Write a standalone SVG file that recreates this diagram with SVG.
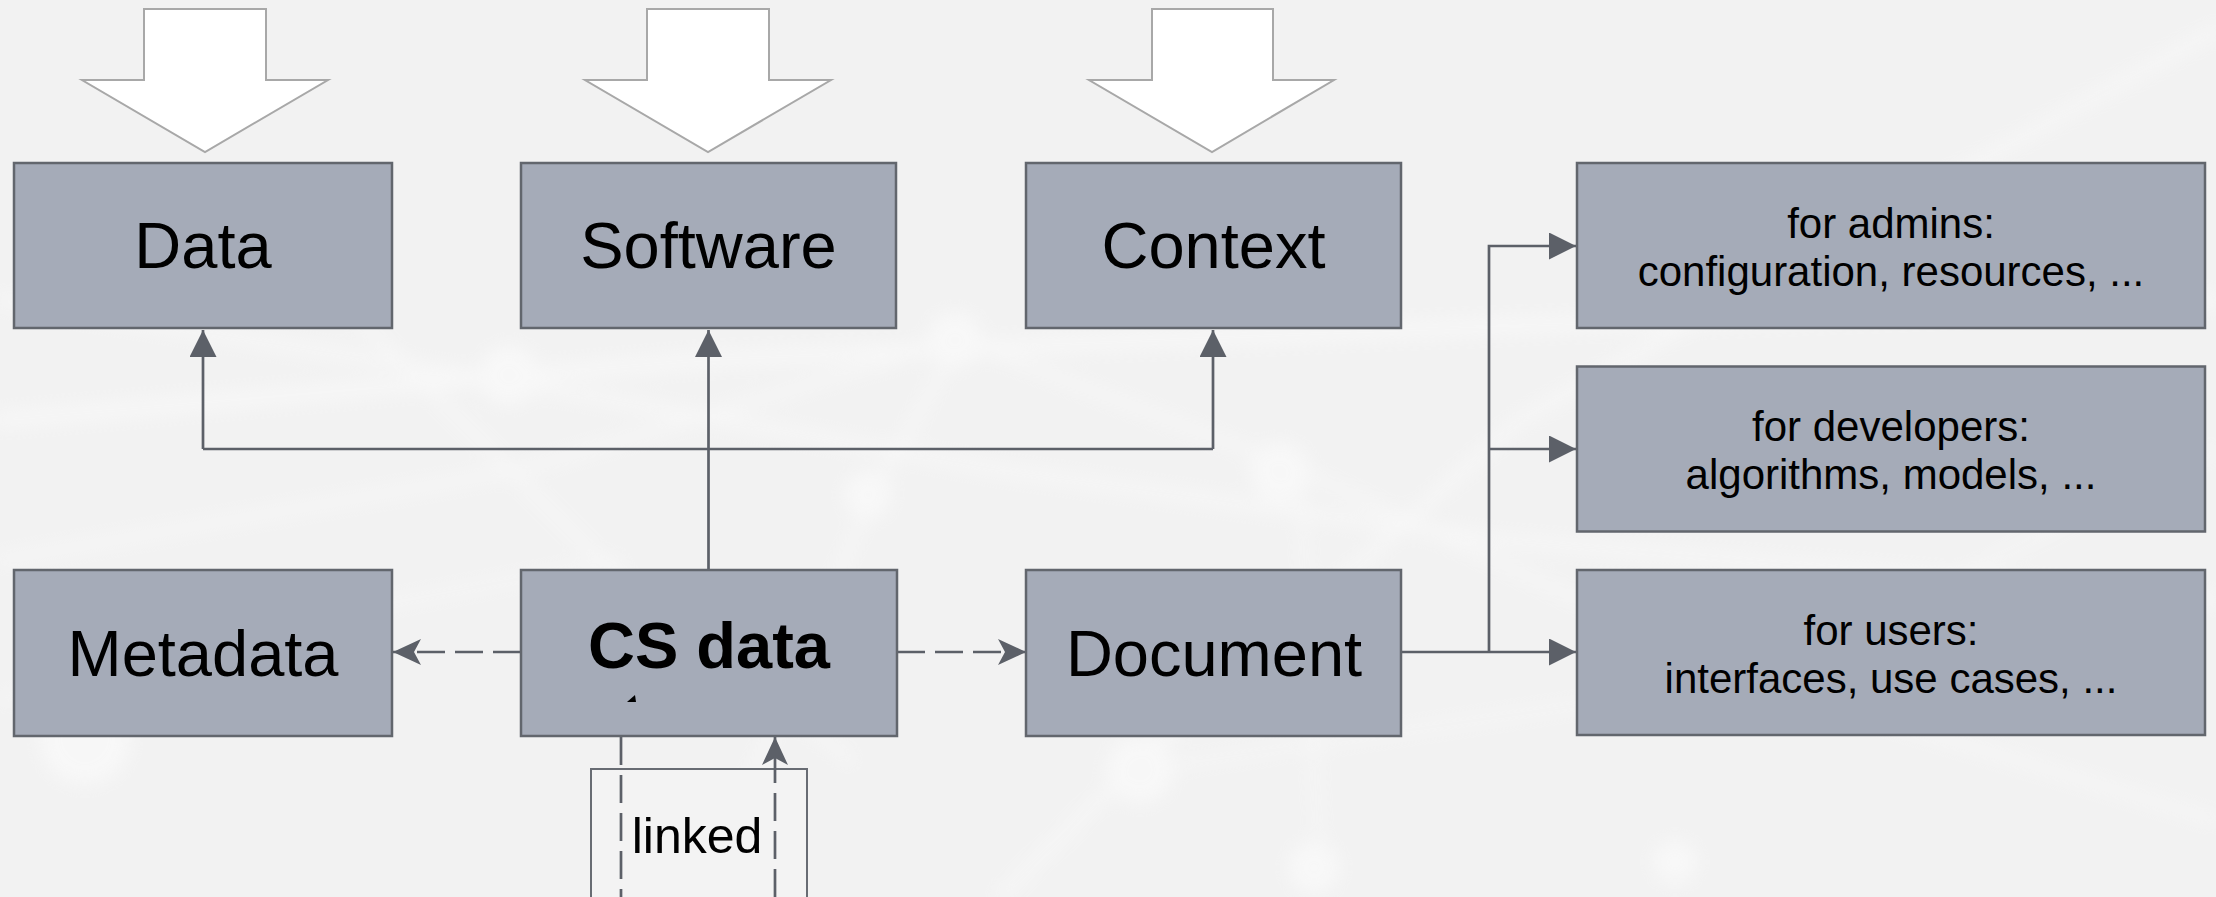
<svg xmlns="http://www.w3.org/2000/svg" width="2216" height="897" viewBox="0 0 2216 897">
<style>
.box{fill:#a5abb8;stroke:#62666d;stroke-width:2.5}
.lbl{font-family:"Liberation Sans",Arial,sans-serif;font-size:65px;fill:#000;text-anchor:middle}
.small{font-family:"Liberation Sans",Arial,sans-serif;font-size:42px;fill:#000;text-anchor:middle}
.blk{fill:#ffffff;stroke:#a8a8a8;stroke-width:2}
.ln{fill:none;stroke:#5c6068;stroke-width:2.7}
.dash{fill:none;stroke:#5c6068;stroke-width:2.7;stroke-dasharray:28 10}
.bg{fill:none;stroke:#ffffff;stroke-linecap:round}
</style>
<defs>
<marker id="fa" markerUnits="userSpaceOnUse" markerWidth="28" markerHeight="28" refX="27" refY="13.5" orient="auto">
<path d="M0,0 L27,13.5 L0,27 z" fill="#5c6068"/>
</marker>
<marker id="oa" markerUnits="userSpaceOnUse" markerWidth="30" markerHeight="28" refX="28" refY="13" orient="auto">
<path d="M0,0 L28,13 L0,26 L7,13 z" fill="#5c6068"/>
</marker>
<filter id="blur" x="-10%" y="-10%" width="120%" height="120%"><feGaussianBlur stdDeviation="9"/></filter>
</defs>
<rect width="2216" height="897" fill="#f2f2f2"/>
<g id="background" filter="url(#blur)" opacity="0.45">
<path class="bg" stroke-width="14" d="M0,420 L700,360 L1400,330 L2216,300"/>
<path class="bg" stroke-width="10" d="M0,300 L500,380 L1000,470 L1500,540 L2216,600"/>
<path class="bg" stroke-width="10" d="M2216,30 L1800,260 L1520,420 L1140,760 L1000,897"/>
<path class="bg" stroke-width="8" d="M300,260 L600,560 L850,760"/>
<path class="bg" stroke-width="8" d="M0,560 L520,470 L960,340 L1300,470 L1750,680 L2216,820"/>
<path class="bg" stroke-width="8" d="M700,897 L870,500 L960,340"/>
<path class="bg" stroke-width="6" d="M1300,470 L1320,880"/>
<path class="bg" stroke-width="6" d="M0,700 L300,620 L620,560"/>
<path class="bg" stroke-width="6" d="M1750,680 L2216,450"/>
<path class="bg" stroke-width="6" d="M1140,770 L1750,680"/>
<circle cx="509" cy="375" r="30" fill="#ffffff"/>
<circle cx="955" cy="340" r="28" fill="#ffffff"/>
<circle cx="868" cy="495" r="24" fill="#ffffff"/>
<circle cx="1280" cy="472" r="30" fill="#ffffff"/>
<circle cx="1752" cy="678" r="26" fill="#ffffff"/>
<circle cx="1140" cy="770" r="34" fill="#ffffff"/>
<circle cx="1314" cy="868" r="26" fill="#ffffff"/>
<circle cx="85" cy="740" r="45" fill="#ffffff"/>
<circle cx="1675" cy="862" r="22" fill="#ffffff"/>
</g>
<g id="block-arrows">
<polygon class="blk" points="144,9 266,9 266,80 328,80 205,152 82,80 144,80"/>
<polygon class="blk" points="647,9 769,9 769,80 831,80 708,152 585,80 647,80"/>
<polygon class="blk" points="1152,9 1273,9 1273,80 1334,80 1212,152 1089,80 1152,80"/>
</g>
<g id="node-linked">
<rect x="591" y="769" width="216" height="160" fill="#f3f3f3" stroke="#686c73" stroke-width="2"/>
<text class="lbl" style="font-size:50px" x="697" y="853">linked</text>
</g>
<g id="connectors">
<path class="ln" d="M203,449 H1213"/>
<path class="ln" d="M203,449 V330" marker-end="url(#fa)"/>
<path class="ln" d="M1213,449 V330" marker-end="url(#fa)"/>
<path class="ln" d="M708.5,569 V330" marker-end="url(#fa)"/>
<path class="dash" d="M521,652 H393" marker-end="url(#oa)"/>
<path class="dash" d="M897,652 H1026" marker-end="url(#oa)"/>
<path class="ln" d="M1401,652 H1576" marker-end="url(#fa)"/>
<path class="ln" d="M1489,652 V246 H1576" marker-end="url(#fa)"/>
<path class="ln" d="M1489,449 H1576" marker-end="url(#fa)"/>
<path class="dash" d="M621,737 V897"/>
<path class="dash" d="M775,897 V737" marker-end="url(#oa)"/>
</g>
<g id="node-data">
<rect class="box" x="14" y="163" width="378" height="165"/>
<text class="lbl" x="203" y="268">Data</text>
</g>
<g id="node-software">
<rect class="box" x="521" y="163" width="375" height="165"/>
<text class="lbl" x="708.5" y="268">Software</text>
</g>
<g id="node-context">
<rect class="box" x="1026" y="163" width="375" height="165"/>
<text class="lbl" x="1213.5" y="268">Context</text>
</g>
<g id="node-admins">
<rect class="box" x="1577" y="163" width="628" height="165"/>
<text class="small" x="1891" y="238">for admins:</text>
<text class="small" x="1891" y="285.5">configuration, resources, ...</text>
</g>
<g id="node-developers">
<rect class="box" x="1577" y="366.5" width="628" height="165"/>
<text class="small" x="1891" y="441">for developers:</text>
<text class="small" x="1891" y="489">algorithms, models, ...</text>
</g>
<g id="node-users">
<rect class="box" x="1577" y="570" width="628" height="165"/>
<text class="small" x="1891" y="645">for users:</text>
<text class="small" x="1891" y="693">interfaces, use cases, ...</text>
</g>
<g id="node-metadata">
<rect class="box" x="14" y="570" width="378" height="166"/>
<text class="lbl" x="203" y="676">Metadata</text>
</g>
<g id="node-csdata">
<rect class="box" x="521" y="570" width="376" height="166"/>
<text class="lbl" style="font-weight:bold" x="709" y="668">CS data</text>
<polygon points="627,702 636,702 635,695" fill="#000"/>
</g>
<g id="node-document">
<rect class="box" x="1026" y="570" width="375" height="166"/>
<text class="lbl" x="1214" y="676">Document</text>
</g>
</svg>
